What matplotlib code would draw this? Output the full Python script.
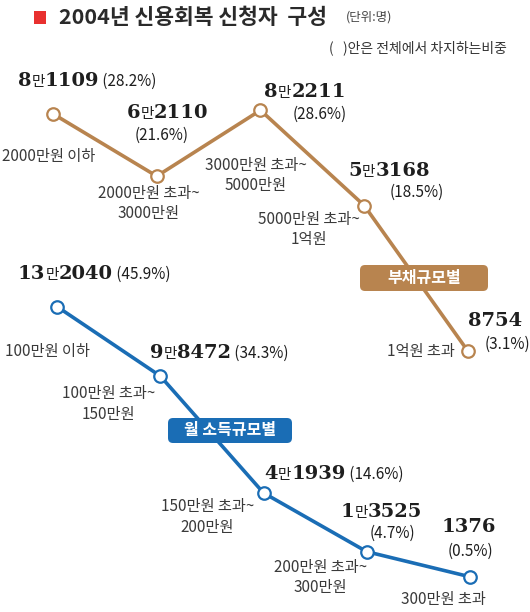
import matplotlib
matplotlib.use("Agg")
import matplotlib.pyplot as plt
from matplotlib.offsetbox import TextArea, HPacker, AnnotationBbox
from matplotlib.patches import FancyBboxPatch, Rectangle

# data (명)
debt_labels = ["2000만원 이하", "2000만원 초과~\n3000만원", "3000만원 초과~\n5000만원",
               "5000만원 초과~\n1억원", "1억원 초과"]
debt_values = [81109, 62110, 82211, 53168, 8754]
debt_pct = ["28.2", "21.6", "28.6", "18.5", "3.1"]

inc_labels = ["100만원 이하", "100만원 초과~\n150만원", "150만원 초과~\n200만원",
              "200만원 초과~\n300만원", "300만원 초과"]
inc_values = [132040, 98472, 41939, 13525, 1376]
inc_pct = ["45.9", "34.3", "14.6", "4.7", "0.5"]

BROWN = "#b8844f"
BLUE = "#1a6db5"
KR = ["Noto Sans CJK KR", "DejaVu Sans"]
SERIF = "DejaVu Serif"
TXT = "#1e1e1e"
CAT = "#3a3a3a"

fig = plt.figure(figsize=(5.30, 6.12), dpi=100)
fig.patch.set_facecolor("white")

ax_d = fig.add_axes([0, 0, 1, 1])
ax_i = fig.add_axes([0, 0, 1, 1])
for a in (ax_d, ax_i):
    a.set_axis_off()
    a.patch.set_alpha(0)
ax_d.set_xlim(-0.511, 4.598)
ax_d.set_ylim(-70734, 115811)
ax_i.set_xlim(-0.552, 4.581)
ax_i.set_ylim(-15644, 280294)

xs = list(range(5))
ax_d.plot(xs, debt_values, color=BROWN, lw=2.6, marker="o", ms=9, mfc="white",
          mec=BROWN, mew=1.6, zorder=3)
ax_i.plot(xs, inc_values, color=BLUE, lw=2.6, marker="o", ms=9, mfc="white",
          mec=BLUE, mew=1.6, zorder=3)


def value_box(v, pct=None):
    man, rest = divmod(v, 10000)
    num = dict(family=SERIF, weight="bold", size=14, color=TXT)
    parts = []
    if man > 0:
        parts.append(TextArea(str(man), textprops=num))
        parts.append(TextArea("만", textprops=dict(family=KR, size=10.5, color=TXT)))
        parts.append(TextArea("%04d" % rest, textprops=num))
    else:
        parts.append(TextArea(str(rest), textprops=num))
    if pct is not None:
        parts.append(TextArea(" (%s%%)" % pct, textprops=dict(family=KR, size=11, color=TXT)))
    return HPacker(children=parts, align="baseline", pad=0, sep=0)


def put_value(ax, i, v, dx, dy, pct=None):
    ab = AnnotationBbox(value_box(v, pct), (i, v), xybox=(dx, -dy), boxcoords="offset pixels",
                        box_alignment=(0, 0.5), frameon=False, pad=0)
    ax.add_artist(ab)


def put_text(ax, i, v, s, dx, dy, ha="left", color=CAT, size=11):
    ax.annotate(s, (i, v), xytext=(dx, -dy), textcoords="offset pixels", ha=ha, va="center",
                family=KR, size=size, color=color, linespacing=1.25)


# debt series labels
put_value(ax_d, 0, debt_values[0], -35, -33, debt_pct[0])
put_value(ax_d, 1, debt_values[1], -30, -63)
put_text(ax_d, 1, debt_values[1], "(%s%%)" % debt_pct[1], 5, -41, ha="center", color=TXT)
put_value(ax_d, 2, debt_values[2], 4, -18)
put_text(ax_d, 2, debt_values[2], "(%s%%)" % debt_pct[2], 32, 4, color=TXT)
put_value(ax_d, 3, debt_values[3], -16, -35)
put_text(ax_d, 3, debt_values[3], "(%s%%)" % debt_pct[3], 25, -13, color=TXT)
put_value(ax_d, 4, debt_values[4], 0, -30)
put_text(ax_d, 4, debt_values[4], "(%s%%)" % debt_pct[4], 17, -7, color=TXT)

put_text(ax_d, 0, debt_values[0], debt_labels[0], -51, 43)
put_text(ax_d, 1, debt_values[1], debt_labels[1], -8, 27, ha="center")
put_text(ax_d, 2, debt_values[2], debt_labels[2], -5, 65, ha="center")
put_text(ax_d, 3, debt_values[3], debt_labels[3], -55, 24, ha="center")
put_text(ax_d, 4, debt_values[4], debt_labels[4], -13, 0, ha="right")

# income series labels
put_value(ax_i, 0, inc_values[0], -39, -33, inc_pct[0])
put_value(ax_i, 1, inc_values[1], -10, -23, inc_pct[1])
put_value(ax_i, 2, inc_values[2], 1, -19, inc_pct[2])
put_value(ax_i, 3, inc_values[3], -26, -40)
put_text(ax_i, 3, inc_values[3], "(%s%%)" % inc_pct[3], 3, -18, color=TXT)
put_value(ax_i, 4, inc_values[4], -28, -50)
put_text(ax_i, 4, inc_values[4], "(%s%%)" % inc_pct[4], -22, -25, color=TXT)

put_text(ax_i, 0, inc_values[0], inc_labels[0], -52, 45)
put_text(ax_i, 1, inc_values[1], inc_labels[1], -52, 28, ha="center")
put_text(ax_i, 2, inc_values[2], inc_labels[2], -56, 24, ha="center")
put_text(ax_i, 3, inc_values[3], inc_labels[3], -46, 26, ha="center")
put_text(ax_i, 4, inc_values[4], inc_labels[4], -27, 23, ha="center")


# series tags (positions in inches from the bottom-left corner)
def tag(x0, y0, w, h, color, s):
    fig.patches.append(FancyBboxPatch((x0, y0), w, h, boxstyle="round,pad=0,rounding_size=0.05",
                                      transform=fig.dpi_scale_trans, fc=color, ec="none", zorder=4))
    fig.text(x0 + w / 2, y0 + h / 2, s, transform=fig.dpi_scale_trans, family=KR, weight="bold",
             size=11.5, color="white", ha="center", va="center", zorder=5)


tag(3.60, 6.12 - 2.91, 1.28, 0.26, BROWN, "부채규모별")
tag(1.68, 6.12 - 4.43, 1.24, 0.25, BLUE, "월 소득규모별")

# title
fig.patches.append(Rectangle((34 / 530, 1 - 24 / 612), 12 / 530, 13 / 612,
                             transform=fig.transFigure, fc="#e8302f", ec="none"))
fig.text(59 / 530, 1 - 17 / 612, "2004년 신용회복 신청자  구성", family=KR, weight="bold",
         size=15.5, color="#2a2a2a", ha="left", va="center")
fig.text(346 / 530, 1 - 17 / 612, "(단위:명)", family=KR, size=9, color="#444444",
         ha="left", va="center")
fig.text(507 / 530, 1 - 48 / 612, "(   )안은 전체에서 차지하는비중", family=KR, size=10,
         color="#333333", ha="right", va="center")

fig.savefig("out.png", dpi=100)
